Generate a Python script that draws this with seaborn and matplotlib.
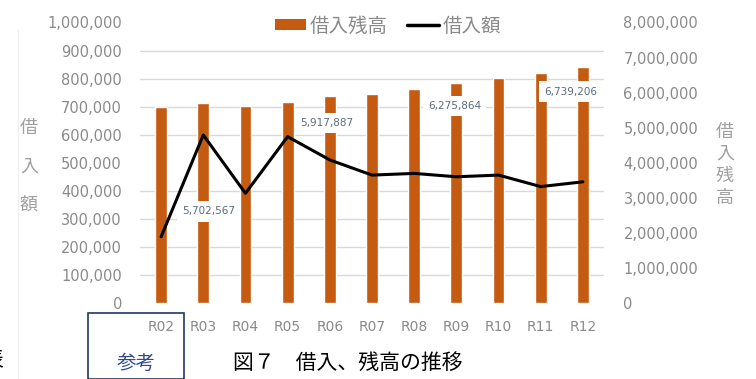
import numpy as np
import pandas as pd
import matplotlib
matplotlib.use("Agg")
import matplotlib.pyplot as plt
from matplotlib.patches import Patch, Rectangle
from matplotlib.lines import Line2D
from matplotlib.ticker import FuncFormatter, FixedLocator
import seaborn as sns

# ---- data ----
years = ["R02", "R03", "R04", "R05", "R06", "R07", "R08", "R09", "R10", "R11", "R12"]
balance = [5590000, 5702567, 5620000, 5740000, 5917887, 5970000, 6100000, 6275864, 6420000, 6550000, 6739206]  # 借入残高
borrow = [236000, 599000, 391000, 593000, 510000, 456000, 462000, 450000, 456000, 415000, 432000]  # 借入額
labeled_idx = [1, 4, 7, 10]
label_offsets = [(3.6, -78), (-2.2, -20), (-1.4, -16.6), (-8.6, -18)]  # points

sns.set_style("white")
plt.rcParams["font.family"] = ["DejaVu Sans", "Noto Sans CJK JP"]

BAR_C = "#C55A11"
TICK_C = "#8a8a8a"
GRID_C = "#d9d9d9"

df = pd.DataFrame({"year": years, "balance": balance, "borrow": borrow})

fig = plt.figure(figsize=(7.56, 3.79), dpi=100)
ax_bar = fig.add_axes([140 / 756, 76 / 379, 464 / 756, 280.5 / 379])
ax_line = ax_bar.twinx()

sns.barplot(data=df, x="year", y="balance", color=BAR_C, width=0.28,
            saturation=1, ax=ax_bar, zorder=2)
sns.lineplot(data=df, x="year", y="borrow", color="black", linewidth=2.2,
             ax=ax_line, sort=False)

ax_bar.set_ylim(0, 8000000)
ax_line.set_ylim(0, 1000000)
ax_bar.set_xlim(-0.5, len(years) - 0.5)

fmt = FuncFormatter(lambda v, p: f"{v:,.0f}")
ax_bar.yaxis.set_major_locator(FixedLocator(np.arange(0, 8000001, 1000000)))
ax_bar.yaxis.set_major_formatter(fmt)
ax_line.yaxis.set_major_locator(FixedLocator(np.arange(0, 1000001, 100000)))
ax_line.yaxis.set_major_formatter(fmt)

# gridlines follow the left (借入額) ticks, drawn below the bars
ax_bar.yaxis.set_minor_locator(FixedLocator(np.arange(0, 8000001, 800000)))
ax_bar.grid(False, which="major")
ax_bar.grid(True, which="minor", axis="y", color=GRID_C, linewidth=1, zorder=0)
ax_bar.set_axisbelow(True)
ax_line.grid(False)

ax_bar.yaxis.tick_right()
ax_bar.yaxis.set_label_position("right")
ax_line.yaxis.tick_left()
ax_line.yaxis.set_label_position("left")

for a in (ax_bar, ax_line):
    for s in a.spines.values():
        s.set_visible(False)
    a.set_xlabel("")
    a.set_ylabel("")
ax_bar.tick_params(axis="y", which="both", length=0, pad=14, labelsize=10.5, labelcolor=TICK_C,
                   right=True, labelright=True, left=False, labelleft=False)
ax_line.tick_params(axis="y", which="both", length=0, pad=13, labelsize=10.5, labelcolor=TICK_C,
                    left=True, labelleft=True, right=False, labelright=False)
ax_bar.tick_params(axis="x", length=0, pad=12, labelsize=10, labelcolor=TICK_C)
ax_line.tick_params(axis="x", length=0)

ax_line.patch.set_visible(False)

# data labels
for i, (dx, dy) in zip(labeled_idx, label_offsets):
    ax_bar.annotate(f"{balance[i]:,}", xy=(i, balance[i]), xytext=(dx, dy),
                    textcoords="offset points", ha="center", va="center",
                    fontsize=7.5, color="#5b6b82", zorder=5,
                    bbox=dict(boxstyle="square,pad=0.5", fc="white", ec="none"))

# legend
handles = [Patch(facecolor=BAR_C, edgecolor="none", label="借入残高"),
           Line2D([], [], color="black", linewidth=2.5, label="借入額")]
leg = ax_line.legend(handles=handles, loc="center", bbox_to_anchor=(388 / 756, 1 - 26 / 379),
                     bbox_transform=fig.transFigure, ncol=2, frameon=True, fontsize=14,
                     handlelength=1.6, handleheight=0.45, handletextpad=0.2, columnspacing=1.0,
                     borderpad=0.2, labelcolor=TICK_C)
leg.get_frame().set_facecolor("white")
leg.get_frame().set_edgecolor("white")
leg.get_frame().set_alpha(1)

# axis titles (vertical stacked characters)
for ch, y in zip("借入額", [128, 167, 205]):
    fig.text(29 / 756, 1 - y / 379, ch, ha="center", va="center", fontsize=13, color="#a0a0a0")
for ch, y in zip("借入残高", [131.5, 153.5, 175.5, 197.5]):
    fig.text(725 / 756, 1 - y / 379, ch, ha="center", va="center", fontsize=13, color="#a0a0a0")

# bottom decorations
fig.add_artist(Rectangle((88 / 756, 0), 96 / 756, (379 - 313) / 379, transform=fig.transFigure,
                         fill=False, edgecolor="#1F3864", linewidth=1.2))
fig.text(136 / 756, 1 - 363 / 379, "参考", ha="center", va="center", fontsize=14, color="#2E4A8B")
fig.text(348 / 756, 1 - 363 / 379, "図７　借入、残高の推移", ha="center", va="center",
         fontsize=15, color="black")
fig.text(3 / 756, 1 - 360 / 379, "表", ha="right", va="center", fontsize=15, color="black")
fig.add_artist(Line2D([18 / 756, 18 / 756], [0, 1 - 30 / 379], transform=fig.transFigure,
                      color="#f0f0f0", linewidth=1))

fig.savefig("out.png", dpi=100)
